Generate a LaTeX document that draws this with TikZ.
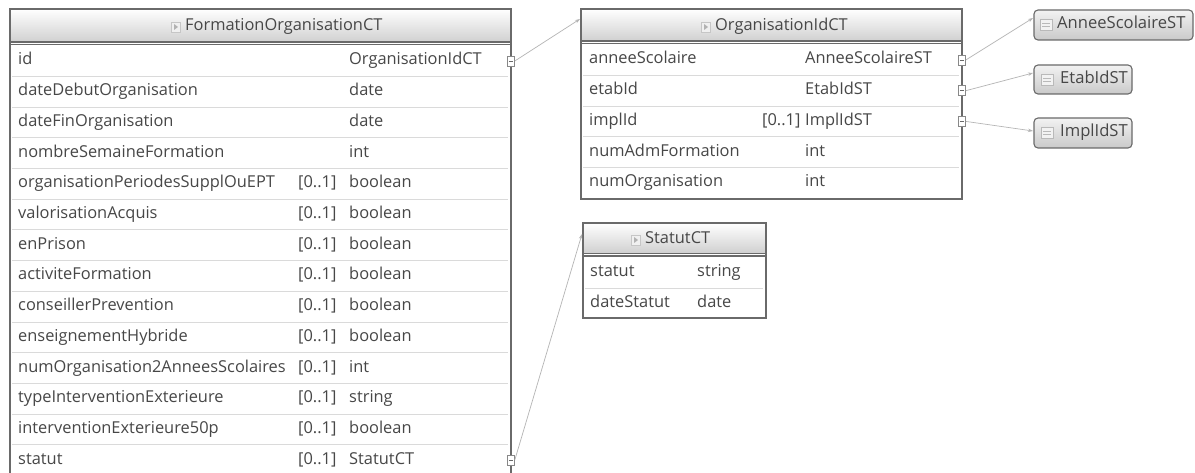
\documentclass[tikz,border=0pt]{standalone}
\usepackage{fontspec}
\setmainfont{Open Sans}
\usetikzlibrary{arrows.meta}
\definecolor{txt}{HTML}{474747}
\definecolor{bord}{HTML}{6A6A6A}
\definecolor{sepc}{HTML}{DADADA}
\definecolor{conn}{HTML}{B4B4B4}
\tikzset{
  rowtxt/.style={anchor=west, inner sep=0pt, text=txt, text height=11pt, text depth=3pt, font=\fontsize{16.4}{19}\selectfont},
  titletxt/.style={anchor=west, inner sep=0pt, text=txt, text height=11pt, text depth=3pt, font=\fontsize{16.4}{19}\selectfont},
  sttxt/.style={anchor=west, inner sep=0pt, text=txt, text height=11pt, text depth=3pt, font=\fontsize{16.6}{19}\selectfont},
  boxborder/.style={draw=bord, line width=1.3pt},
  sepline/.style={draw=sepc, line width=0.8pt},
  header/.style={top color=white, bottom color=gray!38, draw=none},
  expander/.style={draw=bord!80, fill=white, line width=0.6pt, minimum width=7pt, minimum height=10pt, inner sep=0pt,
    path picture={\draw[bord, line width=0.9pt] ([xshift=1.3pt]path picture bounding box.west) -- ([xshift=-1.3pt]path picture bounding box.east);}},
  hdricon/.style={draw=gray!45, fill=gray!12, line width=0.5pt, minimum width=9pt, minimum height=10pt, inner sep=0pt,
    path picture={\fill[gray!60] ([xshift=2.5pt,yshift=3pt]path picture bounding box.west) -- ([xshift=6.5pt]path picture bounding box.west) -- ([xshift=2.5pt,yshift=-3pt]path picture bounding box.west) -- cycle;}},
  sticon/.style={draw=gray!55, fill=gray!10, line width=0.5pt, minimum width=12pt, minimum height=11pt, inner sep=0pt,
    path picture={\draw[gray!55, line width=0.6pt] ([xshift=2pt,yshift=1.5pt]path picture bounding box.west) -- ([xshift=-2pt,yshift=1.5pt]path picture bounding box.east)
      ([xshift=2pt,yshift=-1.5pt]path picture bounding box.west) -- ([xshift=-2pt,yshift=-1.5pt]path picture bounding box.east);}},
  stbox/.style={draw=bord, line width=1.1pt, rounded corners=4pt, top color=gray!10, bottom color=gray!42},
  connector/.style={draw=conn, line width=0.7pt, -{Stealth[length=5pt,width=3.5pt]}},
}
\begin{document}
\begin{tikzpicture}[x=1pt,y=-1pt]
\useasboundingbox (0,0) rectangle (1195,473);
\fill[white] (0,0) rectangle (1195,473);

% ===== FormationOrganisationCT =====
\path[header] (10,9) rectangle (511,43);
\foreach \n/\m/\t [count=\i from 0] in {
  id/0/OrganisationIdCT,
  dateDebutOrganisation/0/date,
  dateFinOrganisation/0/date,
  nombreSemaineFormation/0/int,
  organisationPeriodesSupplOuEPT/1/boolean,
  valorisationAcquis/1/boolean,
  enPrison/1/boolean,
  activiteFormation/1/boolean,
  conseillerPrevention/1/boolean,
  enseignementHybride/1/boolean,
  numOrganisation2AnneesScolaires/1/int,
  typeInterventionExterieure/1/string,
  interventionExterieure50p/1/boolean,
  statut/1/StatutCT}{
  \node[rowtxt] (fn\i) at (18,{61+30.7*\i}) {\n};
  \ifnum\m=1 \node[rowtxt] (fm\i) at (298,{61+30.7*\i}) {[0..1]};\fi
  \node[rowtxt] (ft\i) at (349,{61+30.7*\i}) {\t};
}
\foreach \i in {0,...,12}{\draw[sepline] (12,{76.4+30.7*\i}) -- (508,{76.4+30.7*\i});}
\draw[boxborder] (10,473) -- (10,9) -- (511,9) -- (511,473);
\draw[bord, line width=1.2pt] (10,42) -- (511,42);
\draw[bord, line width=1.2pt] (10,44.5) -- (511,44.5);
\node[hdricon] (fhi) at (176,27) {};
\node[titletxt] (ftitle) at (185,27) {FormationOrganisationCT};
\node[expander] (exid) at (511,61) {};
\node[expander] (exstat) at (511,460) {};

% ===== OrganisationIdCT =====
\path[header] (581,9) rectangle (962,42);
\foreach \n/\m/\t [count=\i from 0] in {
  anneeScolaire/0/AnneeScolaireST,
  etabId/0/EtabIdST,
  implId/1/ImplIdST,
  numAdmFormation/0/int,
  numOrganisation/0/int}{
  \node[rowtxt] (on\i) at (589,{60+30.7*\i}) {\n};
  \ifnum\m=1 \node[rowtxt] (om\i) at (762,{60+30.7*\i}) {[0..1]};\fi
  \node[rowtxt] (ot\i) at (805,{60+30.7*\i}) {\t};
}
\foreach \i in {0,...,3}{\draw[sepline] (583,{75.4+30.7*\i}) -- (959,{75.4+30.7*\i});}
\draw[boxborder] (581,9) rectangle (962,199);
\draw[bord, line width=1.2pt] (581,41) -- (962,41);
\draw[bord, line width=1.2pt] (581,43.5) -- (962,43.5);
\node[hdricon] (ohi) at (706,27) {};
\node[titletxt] (otitle) at (715,27) {OrganisationIdCT};
\node[expander] (exan) at (962,60) {};
\node[expander] (exet) at (962,90.7) {};
\node[expander] (exim) at (962,121.4) {};

% ===== StatutCT =====
\path[header] (583,223) rectangle (766,254);
\node[rowtxt] (sn0) at (590,273) {statut};
\node[rowtxt] (st0) at (697,273) {string};
\draw[sepline] (585,288.5) -- (763,288.5);
\node[rowtxt] (sn1) at (590,304) {dateStatut};
\node[rowtxt] (st1) at (697,304) {date};
\draw[boxborder] (583,223) rectangle (766,318);
\draw[bord, line width=1.2pt] (583,253.5) -- (766,253.5);
\draw[bord, line width=1.2pt] (583,256) -- (766,256);
\node[hdricon] (shi) at (636,240) {};
\node[titletxt] (stitle) at (645,240) {StatutCT};

% ===== simple types =====
\path[stbox] (1034,10) rectangle (1193,40);
\node[sticon] (ai) at (1046,25) {};
\node[sttxt] (astt) at (1057,25) {AnneeScolaireST};
\path[stbox] (1034,65) rectangle (1132,94);
\node[sticon] (ei) at (1047,79.5) {};
\node[sttxt] (estt) at (1060,79.5) {EtabIdST};
\path[stbox] (1034,118) rectangle (1132,148);
\node[sticon] (ii) at (1047,133) {};
\node[sttxt] (istt) at (1060,133) {ImplIdST};

% ===== connector targets =====
\coordinate (orgIn) at (580,19);
\coordinate (statIn) at (582,234);
\coordinate (anIn) at (1033,18);
\coordinate (etIn) at (1033,73);
\coordinate (imIn) at (1033,131);

\draw[connector] (exid.east) -- (orgIn);
\draw[connector] (exstat.east) -- (statIn);
\draw[connector] (exan.east) -- (anIn);
\draw[connector] (exet.east) -- (etIn);
\draw[connector] (exim.east) -- (imIn);
\end{tikzpicture}
\end{document}
